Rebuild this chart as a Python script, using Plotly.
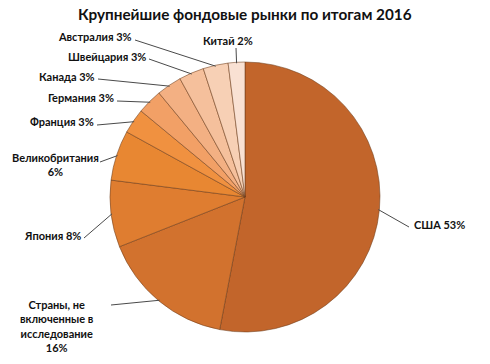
import math
import plotly.graph_objects as go

W, H = 490, 364
labels = ["США", "Страны, не включенные в исследование", "Япония", "Великобритания",
          "Франция", "Германия", "Канада", "Швейцария", "Австралия", "Китай"]
values = [53, 16, 8, 6, 3, 3, 3, 3, 3, 2]
label_texts = ["США 53%", "Страны, не<br>включенные в<br>исследование<br>16%", "Япония 8%",
               "Великобритания<br>6%", "Франция 3%", "Германия 3%", "Канада 3%",
               "Швейцария 3%", "Австралия 3%", "Китай 2%"]
colors = ["#C2652B", "#D2722E", "#DF7D30", "#E88732", "#F09140", "#F2A066",
          "#F3B083", "#F5C09C", "#F7D0B5", "#F9E1D3"]

# layout: pie centre/radius in pixels, label text placements
cx, cy, R = 245, 197, 135
label_pos = [  # (x, y, xanchor, line-start x, line-start y)
    (412, 224, "left", 409, 227),
    (57, 326, "center", 111, 305),
    (83, 235, "right", 84, 238),
    (55, 165, "center", 100, 162),
    (96, 122, "right", 97, 125),
    (116, 98, "right", 117, 101),
    (97, 76, "right", 98, 79),
    (148, 56, "right", 149, 59),
    (134, 37, "right", 135, 40),
    (228, 40, "center", 236, 48),
]

FONT = "Lato"

def px(x):
    return x / W

def py(y):
    return 1 - y / H

fig = go.Figure(go.Pie(
    labels=labels, values=values, sort=False, direction="clockwise", rotation=0,
    marker=dict(colors=colors, line=dict(color="rgba(110,60,25,0.55)", width=1)),
    textinfo="none", hoverinfo="label+percent", showlegend=False,
    domain=dict(x=[px(cx - R), px(cx + R)], y=[py(cy + R), py(cy - R)]),
))

total = sum(values)
cum = 0
annotations = []
shapes = []
for v, t, (lx, ly, xa, sx, sy) in zip(values, label_texts, label_pos):
    mid = (cum + v / 2) / total * 2 * math.pi
    cum += v
    ex = cx + (R - 1) * math.sin(mid)
    ey = cy - (R - 1) * math.cos(mid)
    shapes.append(dict(type="line", xref="paper", yref="paper",
                       x0=px(sx), y0=py(sy), x1=px(ex), y1=py(ey),
                       line=dict(color="#4a4a4a", width=1)))
    annotations.append(dict(text="<b>" + t.replace("<br>", "</b><br><b>") + "</b>",
                            x=px(lx), y=py(ly), xref="paper", yref="paper",
                            xanchor=xa, yanchor="middle", showarrow=False, align="center",
                            font=dict(family=FONT, size=11, color="#111111")))

annotations.append(dict(text="<b>Крупнейшие фондовые рынки по итогам 2016</b>",
                        x=0.5, y=py(14), xref="paper", yref="paper", xanchor="center",
                        yanchor="middle", showarrow=False,
                        font=dict(family=FONT, size=15.3, color="#111111")))

fig.update_layout(width=W, height=H, margin=dict(l=0, r=0, t=0, b=0),
                  paper_bgcolor="white", plot_bgcolor="white",
                  annotations=annotations, shapes=shapes)
fig.write_html("out.html", config={"displayModeBar": False},
               post_script="document.body.style.margin='0';")
